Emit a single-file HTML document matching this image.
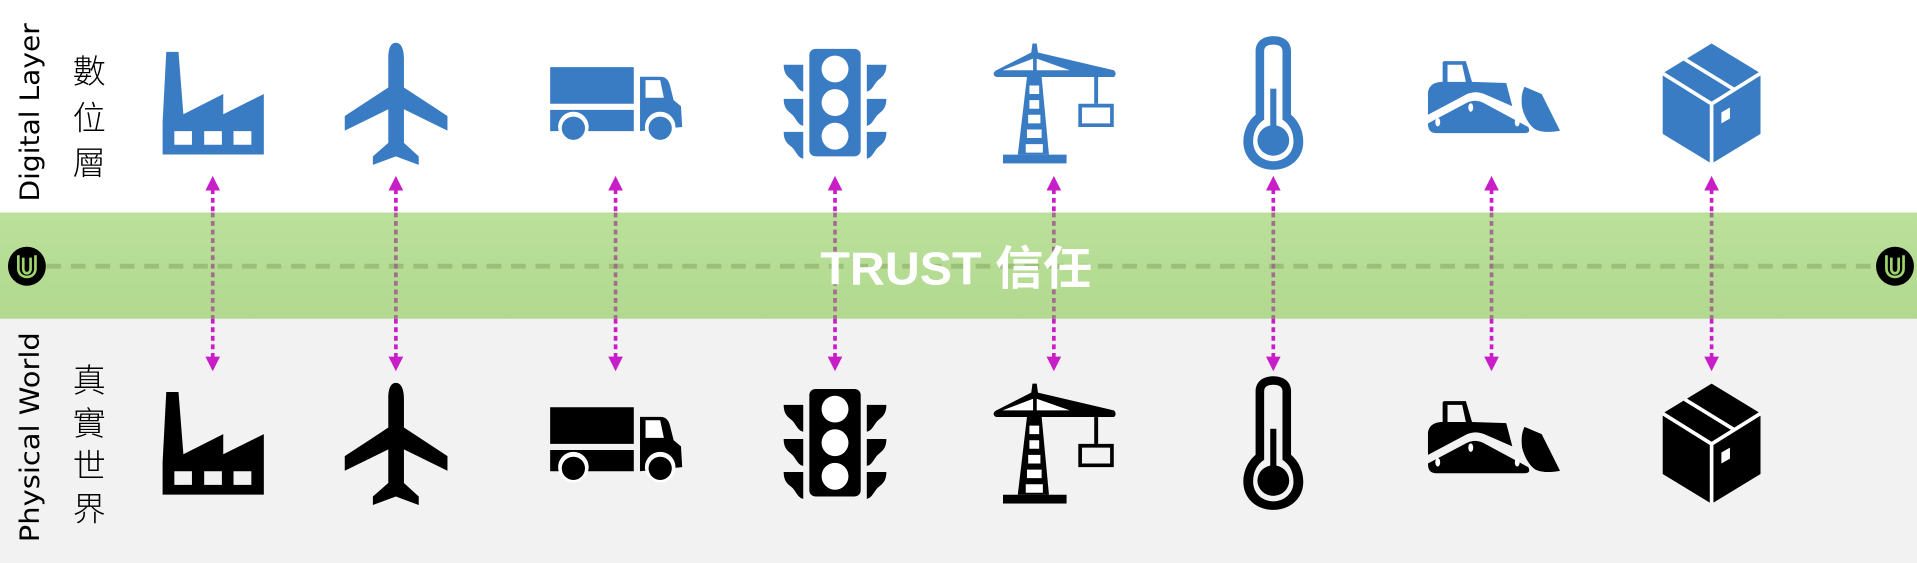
<!DOCTYPE html>
<html><head><meta charset="utf-8"><style>
html,body{margin:0;padding:0;width:1917px;height:563px;overflow:hidden;background:#fff}
svg{display:block}
</style></head><body>
<svg width="1917" height="563" viewBox="0 0 1568 461" preserveAspectRatio="none" xmlns="http://www.w3.org/2000/svg">
<defs>
<linearGradient id="band" x1="0" y1="0" x2="0" y2="1"><stop offset="0" stop-color="#bae09a"/><stop offset="1" stop-color="#b2d98f"/></linearGradient>
<g id="icons">
 <path d="M133,126.5 L133,100 L136,42.5 L146,42.5 L150,93.5 L182.6,77 L182.6,93.5 L215.8,77 L215.8,126.5 Z M142.6,107.4 V118.5 H157 V107.4 Z M167,107.4 V118.5 H181.5 V107.4 Z M191,107.4 V118.5 H205.6 V107.4 Z" fill-rule="evenodd"/>
 <path d="M323.8,35 C329,35 330.4,42 330.4,48 V71.6 L366,95 V107 L330.4,89.5 V117 L342.5,128 V135 L323.8,128 L305,135 V128 L317.6,117 V89.5 L282,107 V95 L317.6,71.6 V48 C317.6,42 318.5,35 323.8,35Z"/>
 <path d="M450,55 H518.4 V85 H450 Z M450,90 H518.4 V107.4 H450 Z M523.5,62.8 H540 C545,62.8 547,66 548,70 L551,82 L557,87 L558,104 L523.5,107.4 Z"/>
 <path d="M528,65.6 H540 L543,80 H528 Z" fill="#fff"/>
 <circle cx="469" cy="104" r="12.5" fill="#fff"/><circle cx="540" cy="104" r="12.5" fill="#fff"/>
 <circle cx="469" cy="105" r="9.5"/><circle cx="540" cy="105" r="9.5"/>
 <rect x="662" y="40" width="42" height="88" rx="5"/>
 <path d="M641,53 H657 V75 C652,74 651,68 647,65 C643,62 641,59 641,53Z M641,81 H657 V103 C652,102 651,96 647,93 C643,90 641,87 641,81Z M641,108 H657 V130 C652,129 651,123 647,120 C643,117 641,114 641,108Z"/>
 <path d="M725,53 H709 V75 C714,74 715,68 719,65 C723,62 725,59 725,53Z M725,81 H709 V103 C714,102 715,96 719,93 C723,90 725,87 725,81Z M725,108 H709 V130 C714,129 715,123 719,120 C723,117 725,114 725,108Z"/>
 <circle cx="683" cy="56.5" r="11" fill="#fff"/><circle cx="683" cy="84" r="11" fill="#fff"/><circle cx="683" cy="111.5" r="11" fill="#fff"/>
 <path d="M844.5,35.6 H848 L849,43 L911,57.5 C913,59 913,62 911,63 H815 C812,62 812,59 815,57.5 L843.5,43 Z"/>
 <path d="M840,63 H852 L858,126.6 H832.5 Z"/>
 <path d="M842,70 H850 V77 H842Z M842,82 H850 V89 H842Z M841,94 H851 V101 H841Z M840,106 H852 V113 H840Z M839,118 H853 V125 H839Z" fill="#fff"/>
 <path d="M845,48 L820,57.5 H845Z M848,48 L875,57.5 H848Z" fill="#fff"/>
 <rect x="820.4" y="126.6" width="52" height="7.2"/>
 <rect x="895" y="63" width="3.2" height="22"/>
 <path d="M882,85 H911 V104 H882 Z M885,88 V101 H908 V88 Z" fill-rule="evenodd"/>
 <path d="M1027,94 V42 C1027,34 1033,29.6 1041.5,29.6 C1050,29.6 1056,34 1056,42 V94 C1062,99 1066,107 1066,116 C1066,130 1055,139 1041.5,139 C1028,139 1017,130 1017,116 C1017,107 1021,99 1027,94 Z M1034,98 V42 C1034,38 1037,36.5 1041.5,36.5 C1046,36.5 1049,38 1049,42 V98 C1055,102 1058,108 1058,116 C1058,126 1050,132 1041.5,132 C1033,132 1025,126 1025,116 C1025,108 1028,102 1034,98 Z" fill-rule="evenodd"/>
 <rect x="1039" y="72.6" width="5" height="35"/>
 <ellipse cx="1041.5" cy="115" rx="13" ry="12.5"/>
 <path d="M1180,67 V52 C1180,50 1181,50 1183,50 H1199 L1204,67 L1232,68 L1237,87 L1214,77 C1209,75 1205,75 1200,77 L1168,94 V77 C1168,71 1172,67 1180,67 Z M1184,53 V67 H1199 L1196,53 Z" fill-rule="evenodd"/>
 <path d="M1168,101 L1200,84 C1205,82 1208,82 1213,84 L1250,104 C1252,108 1250,109 1246,109 H1175 C1169,109 1168,105 1168,101 Z"/>
 <path d="M1247,71 L1261,77 L1276,107 C1272,108 1262,109 1256,106 C1251,103 1247,96 1245,88 C1244,80 1245,75 1247,71 Z"/>
 <ellipse cx="1176" cy="100" rx="2" ry="3.5" fill="#fff"/><ellipse cx="1203" cy="88" rx="2" ry="3.5" fill="#fff"/><ellipse cx="1241" cy="100" rx="2" ry="3.5" fill="#fff"/>
 <path d="M1400,35.6 L1440,60 V109.6 L1400,134 L1360,109.6 V60 Z"/>
 <path d="M1360,60 L1400,85 L1440,60 M1400,85 V134 M1378,48.5 L1418,73" stroke="#fff" stroke-width="3" fill="none"/>
 <path d="M1408,92 L1415,88 V97 L1408,101Z" fill="#fff"/>
</g>
</defs>
<rect x="0" y="0" width="1568" height="174" fill="#fff"/>
<rect x="0" y="261" width="1568" height="200" fill="#f2f2f2"/>
<rect x="0" y="174" width="1568" height="87" fill="url(#band)"/>
<line x1="38" y1="218" x2="1534" y2="218" stroke="#9bbf79" stroke-width="4" stroke-dasharray="12 8"/>

<g font-family="'DejaVu Sans', 'Liberation Sans', sans-serif" fill="#000" font-weight="normal">
 <text transform="translate(32,92) rotate(-90)" text-anchor="middle" font-size="22" textLength="146" lengthAdjust="spacingAndGlyphs">Digital Layer</text>
 <text transform="translate(32,358) rotate(-90)" text-anchor="middle" font-size="22" textLength="172" lengthAdjust="spacingAndGlyphs">Physical World</text>
</g>
<g font-family="'Noto Sans CJK TC', 'Noto Sans CJK SC', sans-serif" font-size="27" fill="#000" text-anchor="middle" font-weight="300">
 <text x="73" y="68">數</text><text x="73" y="106">位</text><text x="73" y="143">層</text>
 <text x="73" y="321">真</text><text x="73" y="356">實</text><text x="73" y="391">世</text><text x="73" y="426">界</text>
</g>

<use href="#icons" fill="#3a7cc4"/>
<use href="#icons" fill="#000" transform="translate(0,278.5)"/>

<g>
 <g stroke="#c81ec8" stroke-width="3" stroke-dasharray="4 3">
  <path d="M174,155 V174 M323.8,155 V174 M503.5,155 V174 M683,155 V174 M862,155 V174 M1041.5,155 V174 M1220,155 V174 M1400,155 V174"/>
  <path d="M174,261 V294 M323.8,261 V294 M503.5,261 V294 M683,261 V294 M862,261 V294 M1041.5,261 V294 M1220,261 V294 M1400,261 V294"/>
 </g>
 <g stroke="#a0708a" stroke-width="3" stroke-dasharray="4 3">
  <path d="M174,174 V261 M323.8,174 V261 M503.5,174 V261 M683,174 V261 M862,174 V261 M1041.5,174 V261 M1220,174 V261 M1400,174 V261"/>
 </g>
 <g fill="#c81ec8">
  <path d="M174,144 l-6,12 h12Z M323.8,144 l-6,12 h12Z M503.5,144 l-6,12 h12Z M683,144 l-6,12 h12Z M862,144 l-6,12 h12Z M1041.5,144 l-6,12 h12Z M1220,144 l-6,12 h12Z M1400,144 l-6,12 h12Z"/>
  <path d="M174,304 l-6,-12 h12Z M323.8,304 l-6,-12 h12Z M503.5,304 l-6,-12 h12Z M683,304 l-6,-12 h12Z M862,304 l-6,-12 h12Z M1041.5,304 l-6,-12 h12Z M1220,304 l-6,-12 h12Z M1400,304 l-6,-12 h12Z"/>
 </g>
</g>

<text x="782" y="233" text-anchor="middle" font-family="'Liberation Sans', 'Noto Sans CJK TC', sans-serif" font-weight="bold" font-size="38" fill="#fff" textLength="222" lengthAdjust="spacingAndGlyphs">TRUST 信任</text>

<g id="logo">
 <ellipse cx="22" cy="218" rx="15.5" ry="16" fill="#000"/>
 <path d="M15,209 V220 C15,229 29,229 29,220 V209" stroke="#9fd46a" stroke-width="2.2" fill="none"/>
 <path d="M19,211 V220 C19,225 25,225 25,220 V211" stroke="#9fd46a" stroke-width="2.2" fill="none"/>
</g>
<use href="#logo" transform="translate(1528,0)"/>
</svg>
</body></html>
